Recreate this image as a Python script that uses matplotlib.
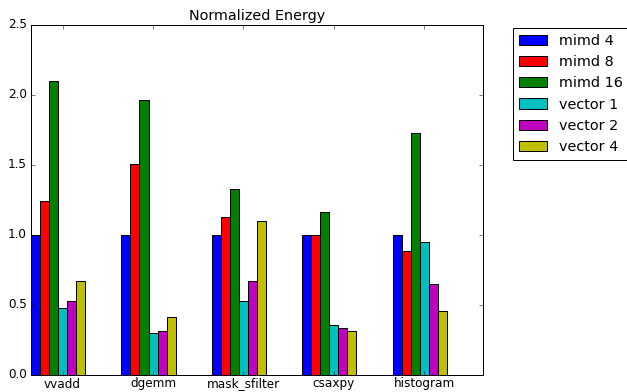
import matplotlib
matplotlib.use("Agg")
import matplotlib.pyplot as plt
import numpy as np

plt.style.use("classic")

benchmarks = ["vvadd", "dgemm", "mask_sfilter", "csaxpy", "histogram"]
configs = ["mimd 4", "mimd 8", "mimd 16", "vector 1", "vector 2", "vector 4"]
colors = ["b", "r", "g", "c", "m", "y"]

mimd_4 = [1.0, 1.0, 1.0, 1.0, 1.0]
mimd_8 = [1.243, 1.509, 1.129, 1.0, 0.883]
mimd_16 = [2.10, 1.962, 1.331, 1.162, 1.731]
vector_1 = [0.476, 0.298, 0.531, 0.355, 0.952]
vector_2 = [0.526, 0.314, 0.669, 0.338, 0.648]
vector_4 = [0.671, 0.412, 1.102, 0.317, 0.455]
series = [mimd_4, mimd_8, mimd_16, vector_1, vector_2, vector_4]

width = 0.1
x = np.arange(len(benchmarks))

fig = plt.figure(figsize=(627 / 72, 392 / 72), dpi=72, facecolor="white")
ax = fig.add_axes([31 / 627, 1 - 375 / 392, 452 / 627, 350 / 392])

for i, (vals, name, c) in enumerate(zip(series, configs, colors)):
    ax.bar(x + i * width, vals, width, color=c, label=name, align="edge",
           edgecolor="black", linewidth=1)

ax.set_xlim(0, 5)
ax.set_ylim(0, 2.5)
ax.set_xticks(x + 3.5 * width)
ax.set_xticklabels(benchmarks)
ax.tick_params(axis="x", pad=2.5)
ax.set_title("Normalized Energy")
ax.legend(loc="upper left", bbox_to_anchor=(1.066, 0.991), borderaxespad=0)

fig.savefig("out.png", dpi=72, facecolor="white")
